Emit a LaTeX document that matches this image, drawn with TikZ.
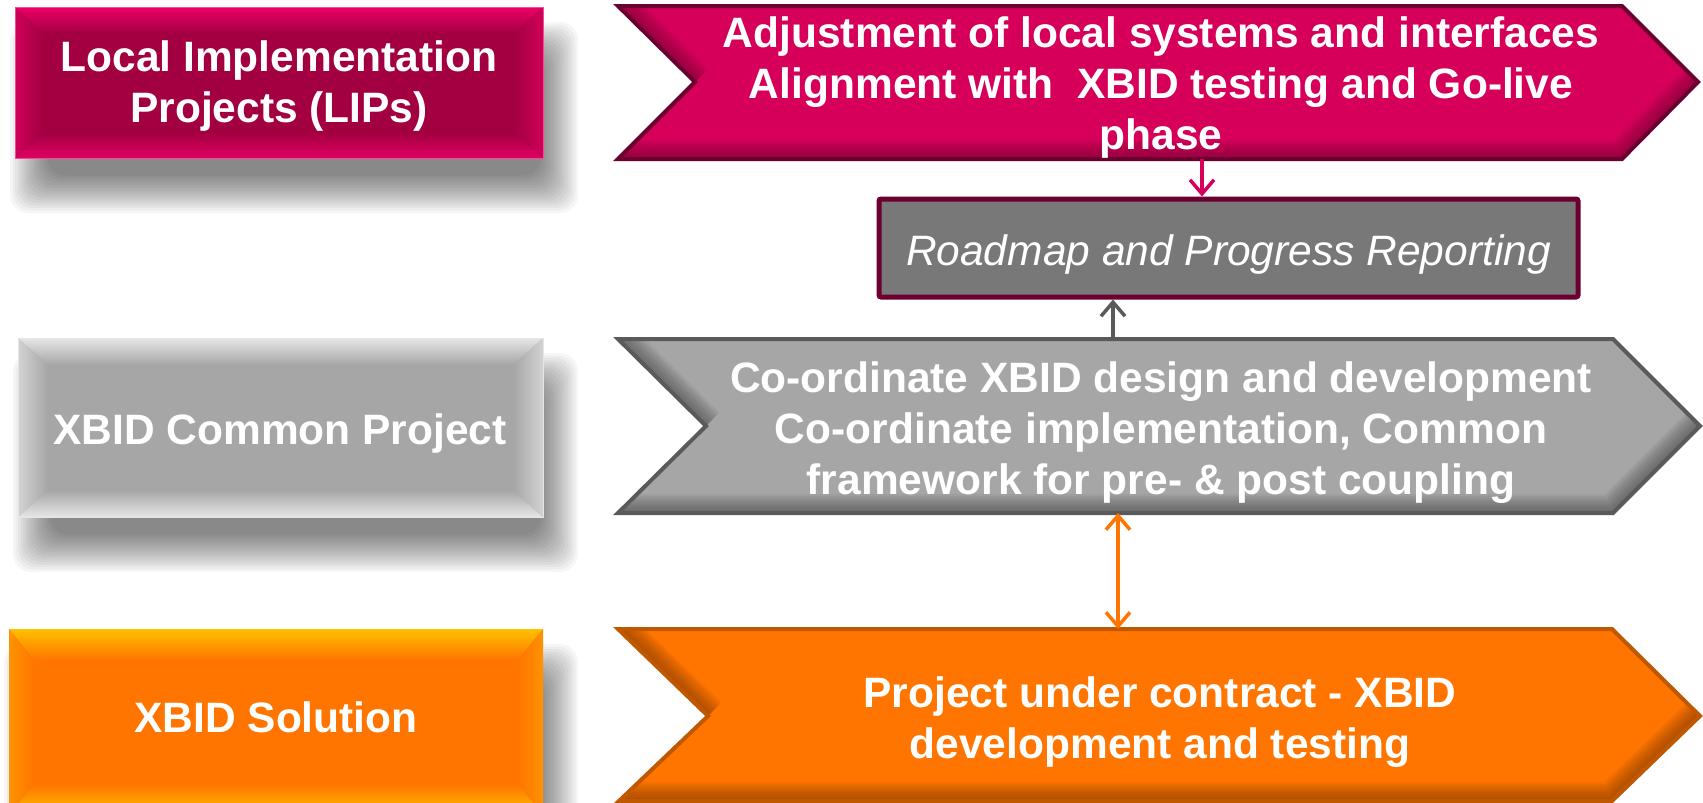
\documentclass[tikz,border=0pt]{standalone}
\usepackage{fontspec}
\setmainfont{Liberation Sans}
\usetikzlibrary{arrows.meta,calc}
\definecolor{lipred}{HTML}{A30042}
\definecolor{lipbright}{HTML}{EE0068}
\definecolor{chpink}{HTML}{D6005A}
\definecolor{chpinkdark}{HTML}{6B0030}
\definecolor{roadgray}{HTML}{787878}
\definecolor{midgray}{HTML}{A6A6A6}
\definecolor{lightbev}{HTML}{E6E6E6}
\definecolor{dgray}{HTML}{5A5A5A}
\definecolor{orng}{HTML}{FF7500}
\definecolor{orngdark}{HTML}{C05800}
\definecolor{orngyel}{HTML}{FFC000}
\tikzset{
  bigtxt/.style={text=white, font=\fontsize{42.5}{51}\selectfont\bfseries, align=center, inner sep=0pt},
  chtxt/.style={text=white, font=\fontsize{42.5}{51}\selectfont\bfseries, align=center, inner sep=0pt},
  connector/.style={line width=3.5pt, -{Straight Barb[length=14pt,width=24pt,line width=3.5pt]}},
  bothconnector/.style={line width=3.5pt, {Straight Barb[length=14pt,width=24pt,line width=3.5pt]}-{Straight Barb[length=14pt,width=24pt,line width=3.5pt]}},
}
% soft drop shadow: x1,y1,x2,y2 (pixel coords, y down)
\newcommand{\myshadow}[4]{%
  \foreach \k in {0,...,15}{%
    \fill[black, opacity=0.034, rounded corners=18pt]
      (#1-20+\k*2.5, #2-20+\k*2.5) rectangle (#3+20-\k*2.5, #4+20-\k*2.5);}}
% inner edge shadow for a chevron: path points tl, notch, bl, bc, tip, tr ; colour
\newcommand{\myinner}[7]{%
  \begin{scope}
    \clip #1 -- #6 -- #5 -- #4 -- #3 -- #2 -- cycle;
    \foreach \w in {38,34,...,6}{%
      \draw[line width=\w pt, #7, opacity=0.08, line cap=butt, line join=miter] #1 -- #2;
      \draw[line width=\w pt, #7, opacity=0.08, line cap=butt, line join=miter] #3 -- #4 -- #5;}
  \end{scope}}
\begin{document}
\begin{tikzpicture}[x=1pt,y=-1pt]
\useasboundingbox (0,0) rectangle (1703,803);
\fill[white] (0,0) rectangle (1703,803);

% ---------- left boxes ----------
% LIPs
\myshadow{30}{42}{558}{193}
\fill[lipred] (15,7) rectangle (543,158);
\shade[top color=lipbright, bottom color=lipred] (15,7) -- (543,7) -- (515,33) -- (43,33) -- cycle;
\shade[top color=lipred, bottom color=lipbright!85!lipred] (43,133) -- (515,133) -- (543,158) -- (15,158) -- cycle;
\shade[left color=lipbright!60!lipred, right color=lipred] (15,7) -- (43,33) -- (43,133) -- (15,158) -- cycle;
\shade[left color=lipred, right color=lipbright!60!lipred] (543,7) -- (515,33) -- (515,133) -- (543,158) -- cycle;
\draw[lipbright!70!white, line width=0.8pt] (15,7) rectangle (543,158);
\node[bigtxt] (lips) at (279,86.5) {Local Implementation\\Projects (LIPs)};

% XBID Common Project
\myshadow{33}{373}{558}{552}
\fill[midgray] (18,338) rectangle (543,517);
\shade[top color=lightbev, bottom color=midgray] (18,338) -- (543,338) -- (513,365) -- (48,365) -- cycle;
\shade[top color=midgray, bottom color=lightbev] (48,490) -- (513,490) -- (543,517) -- (18,517) -- cycle;
\shade[left color=lightbev!70!midgray, right color=midgray] (18,338) -- (48,365) -- (48,490) -- (18,517) -- cycle;
\shade[left color=midgray, right color=lightbev!70!midgray] (543,338) -- (513,365) -- (513,490) -- (543,517) -- cycle;
\draw[lightbev, line width=0.8pt] (18,338) rectangle (543,517);
\node[bigtxt] (common) at (280,434) {XBID Common Project};

% XBID Solution
\myshadow{24}{664}{558}{850}
\fill[orng] (9,629) rectangle (543,815);
\shade[top color=orngyel, bottom color=orng] (9,629) -- (543,629) -- (518,660) -- (34,660) -- cycle;
\shade[top color=orng, bottom color=orngyel] (34,784) -- (518,784) -- (543,815) -- (9,815) -- cycle;
\shade[left color=orngyel!40!orng, right color=orng] (9,629) -- (34,660) -- (34,784) -- (9,815) -- cycle;
\shade[left color=orng, right color=orngyel!40!orng] (543,629) -- (518,660) -- (518,784) -- (543,815) -- cycle;
\node[bigtxt] (solution) at (276,717) {XBID Solution};

% ---------- chevrons ----------
% top
\fill[chpink] (618,6) -- (1622,6) -- (1698,82) -- (1622,159) -- (618,159) -- (695,82) -- cycle;
\myinner{(618,6)}{(695,82)}{(618,159)}{(1622,159)}{(1698,82)}{(1622,6)}{chpinkdark}
\draw[chpinkdark, line width=4pt, line join=miter] (618,6) -- (1622,6) -- (1698,82) -- (1622,159) -- (618,159) -- (695,82) -- cycle;
\node[chtxt] (adjust) at (1161,87.5) {Adjustment of local systems and interfaces\\Alignment with \ XBID testing and Go-live\\phase};
\coordinate (topbot) at (1202,159);

% middle
\fill[midgray] (618,339) -- (1613,339) -- (1700,426) -- (1613,513) -- (618,513) -- (706,426) -- cycle;
\myinner{(618,339)}{(706,426)}{(618,513)}{(1613,513)}{(1700,426)}{(1613,339)}{black!75}
\draw[dgray, line width=4pt, line join=miter] (618,339) -- (1613,339) -- (1700,426) -- (1613,513) -- (618,513) -- (706,426) -- cycle;
\node[chtxt] (coord) at (1161,432.5) {Co-ordinate XBID design and development\\Co-ordinate implementation, Common\\framework for pre- \& post coupling};
\coordinate (midtop) at (1113,339);
\coordinate (midbot) at (1118,513);

% bottom
\fill[orng] (618,629) -- (1612,629) -- (1700,716) -- (1612,801) -- (619,801) -- (708,716) -- cycle;
\myinner{(618,629)}{(708,716)}{(619,801)}{(1612,801)}{(1700,716)}{(1612,629)}{orngdark!60!black}
\draw[orngdark, line width=4pt, line join=miter] (618,629) -- (1612,629) -- (1700,716) -- (1612,801) -- (619,801) -- (708,716) -- cycle;
\node[chtxt] (contract) at (1160,722.5) {Project under contract - XBID\\development and testing};
\coordinate (bottop) at (1118,629);

% ---------- roadmap box ----------
\node[draw=chpinkdark, fill=roadgray, line width=5pt, rounded corners=2pt,
      minimum width=699pt, minimum height=98pt, inner sep=0pt,
      text height=45pt, text depth=10pt,
      text=white, font=\fontsize{42.5}{50}\selectfont\itshape] (road) at (1228.5,248) {Roadmap and Progress Reporting};

% ---------- connectors ----------
\draw[connector, chpink] (topbot) -- (road.north -| topbot);
\draw[connector, dgray] (midtop) -- (road.south -| midtop);
\draw[bothconnector, orng] (midbot) -- (bottop);
\end{tikzpicture}
\end{document}
